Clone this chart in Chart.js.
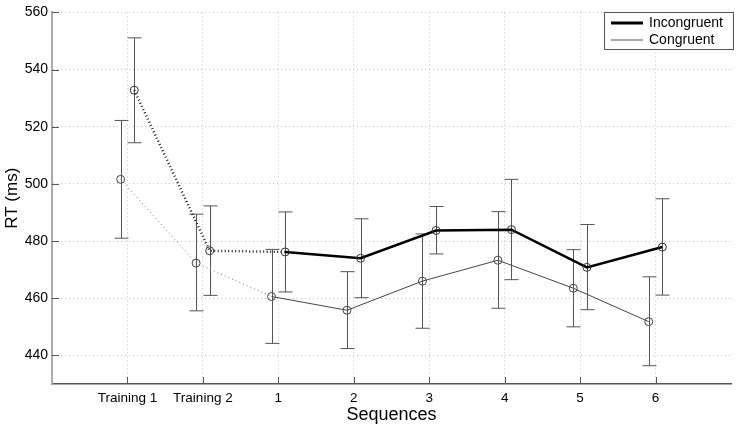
<!DOCTYPE html>
<html>
<head>
<meta charset="utf-8">
<script src="https://cdn.jsdelivr.net/npm/chart.js@4.4.1/dist/chart.umd.min.js"></script>
<style>
  html, body { margin: 0; padding: 0; background: #fff; }
  #wrap { width: 736px; height: 426px; }
</style>
</head>
<body>
<div id="wrap"><canvas id="rtChart" width="736" height="426"></canvas></div>
<script>
// x positions 1..8, labels shown under each
const tickLabels = ['Training 1', 'Training 2', '1', '2', '3', '4', '5', '6'];
const yTicks = [440, 460, 480, 500, 520, 540, 560];

const incongruentRT = [532.8, 476.6, 476.2, 474.0, 483.7, 484.0, 470.8, 477.9];
const incongruentLow = [514.4, 461.0, 462.2, 460.2, 475.5, 466.5, 456.0, 461.1];
const incongruentHigh = [551.1, 492.3, 490.2, 487.8, 492.1, 501.6, 485.8, 494.8];

const congruentRT = [501.6, 472.3, 460.6, 455.8, 466.0, 473.3, 463.5, 451.8];
const congruentLow = [481.0, 455.6, 444.2, 442.4, 449.5, 456.5, 450.0, 436.4];
const congruentHigh = [522.2, 489.4, 477.1, 469.3, 482.5, 490.3, 477.0, 467.5];

const offset = 0.09; // the two series are nudged apart a little

function toPoints(values, shift) {
    return values.map((v, i) => ({ x: i + 1 + shift, y: v }));
}

// dotted for the training part, solid afterwards
const isTraining = ctx => ctx.p0.parsed.x < 2.5;

const errorBars = {
    id: 'errorBars',
    beforeDatasetsDraw(chart) {
        const { ctx, scales: { x, y } } = chart;
        const sets = [
            [incongruentLow, incongruentHigh, offset],
            [congruentLow, congruentHigh, -offset]
        ];
        ctx.save();
        ctx.strokeStyle = '#555';
        ctx.lineWidth = 1;
        sets.forEach(([low, high, shift]) => {
            low.forEach((lo, i) => {
                const px = Math.round(x.getPixelForValue(i + 1 + shift)) + 0.5;
                const top = y.getPixelForValue(high[i]);
                const bot = y.getPixelForValue(lo);
                ctx.beginPath();
                ctx.moveTo(px, top); ctx.lineTo(px, bot);
                ctx.moveTo(px - 7, top); ctx.lineTo(px + 7, top);
                ctx.moveTo(px - 7, bot); ctx.lineTo(px + 7, bot);
                ctx.stroke();
            });
        });
        ctx.restore();
    }
};

// matlab style ticks pointing into the plot + legend box
const extras = {
    id: 'extras',
    afterDraw(chart) {
        const { ctx, chartArea: a, scales: { x, y } } = chart;
        ctx.save();
        ctx.strokeStyle = '#555';
        ctx.lineWidth = 1;
        ctx.beginPath();
        tickLabels.forEach((t, i) => {
            const px = Math.round(x.getPixelForValue(i + 1)) + 0.5;
            ctx.moveTo(px, a.bottom); ctx.lineTo(px, a.bottom - 7);
        });
        yTicks.forEach(v => {
            const py = Math.round(y.getPixelForValue(v)) + 0.5;
            ctx.moveTo(a.left, py); ctx.lineTo(a.left + 7, py);
        });
        ctx.stroke();

        // legend
        const bx = 604.5, by = 12.5, bw = 129, bh = 37;
        ctx.fillStyle = '#fff';
        ctx.fillRect(bx, by, bw, bh);
        ctx.strokeStyle = '#555';
        ctx.strokeRect(bx, by, bw, bh);
        const entries = [
            { label: chart.data.datasets[0].label, color: '#000', width: 3, yy: 23 },
            { label: chart.data.datasets[1].label, color: '#aaa', width: 2, yy: 40 }
        ];
        ctx.font = '14px "Liberation Sans", Arial, sans-serif';
        ctx.textBaseline = 'middle';
        entries.forEach(e => {
            ctx.strokeStyle = e.color;
            ctx.lineWidth = e.width;
            ctx.beginPath();
            ctx.moveTo(611, e.yy); ctx.lineTo(643, e.yy);
            ctx.stroke();
            ctx.fillStyle = '#000';
            ctx.fillText(e.label, 649, e.yy);
        });
        ctx.restore();
    }
};

Chart.defaults.font.family = '"Liberation Sans", Arial, sans-serif';
Chart.defaults.color = '#000';

new Chart(document.getElementById('rtChart'), {
    type: 'line',
    data: {
        datasets: [
            {
                label: 'Incongruent',
                data: toPoints(incongruentRT, offset),
                borderColor: '#000',
                borderWidth: 2.5,
                pointRadius: 4,
                pointBorderColor: '#333',
                pointBackgroundColor: 'rgba(0,0,0,0)',
                pointBorderWidth: 1,
                tension: 0,
                segment: {
                    borderDash: ctx => isTraining(ctx) ? [1, 2.5] : undefined,
                    borderColor: ctx => isTraining(ctx) ? '#222' : undefined
                }
            },
            {
                label: 'Congruent',
                data: toPoints(congruentRT, -offset),
                borderColor: '#444',
                borderWidth: 1,
                pointRadius: 4,
                pointBorderColor: '#444',
                pointBackgroundColor: 'rgba(0,0,0,0)',
                pointBorderWidth: 1,
                tension: 0,
                segment: {
                    borderDash: ctx => isTraining(ctx) ? [1, 3] : undefined,
                    borderColor: ctx => isTraining(ctx) ? '#777' : undefined
                }
            }
        ]
    },
    options: {
        responsive: false,
        animation: false,
        layout: { padding: { top: 7, left: 0, right: 0, bottom: 0 } },
        plugins: { legend: { display: false }, tooltip: { enabled: false } },
        scales: {
            x: {
                type: 'linear',
                min: 0,
                max: 9,
                afterBuildTicks: s => { s.ticks = tickLabels.map((t, i) => ({ value: i + 1 })); },
                afterFit: s => { s.height = 42; },
                ticks: {
                    autoSkip: false,
                    maxRotation: 0,
                    padding: 6,
                    font: { size: 13.5 },
                    callback: v => tickLabels[v - 1]
                },
                grid: { color: '#c4c4c4', drawTicks: false },
                border: { color: '#555', width: 1.5, dash: [1, 3] },
                title: { display: true, text: 'Sequences', font: { size: 18 }, padding: { top: 0, bottom: 0 } }
            },
            y: {
                min: 430,
                max: 560,
                afterBuildTicks: s => { s.ticks = yTicks.map(v => ({ value: v })); },
                afterFit: s => { s.width = 52; },
                ticks: { padding: 4, font: { size: 14 } },
                grid: { color: '#c4c4c4', drawTicks: false },
                border: { color: '#aaa', width: 2, dash: [1, 3] },
                title: { display: true, text: 'RT (ms)', font: { size: 17 }, padding: { top: 2, bottom: 0 } }
            }
        }
    },
    plugins: [errorBars, extras]
});
</script>
</body>
</html>
